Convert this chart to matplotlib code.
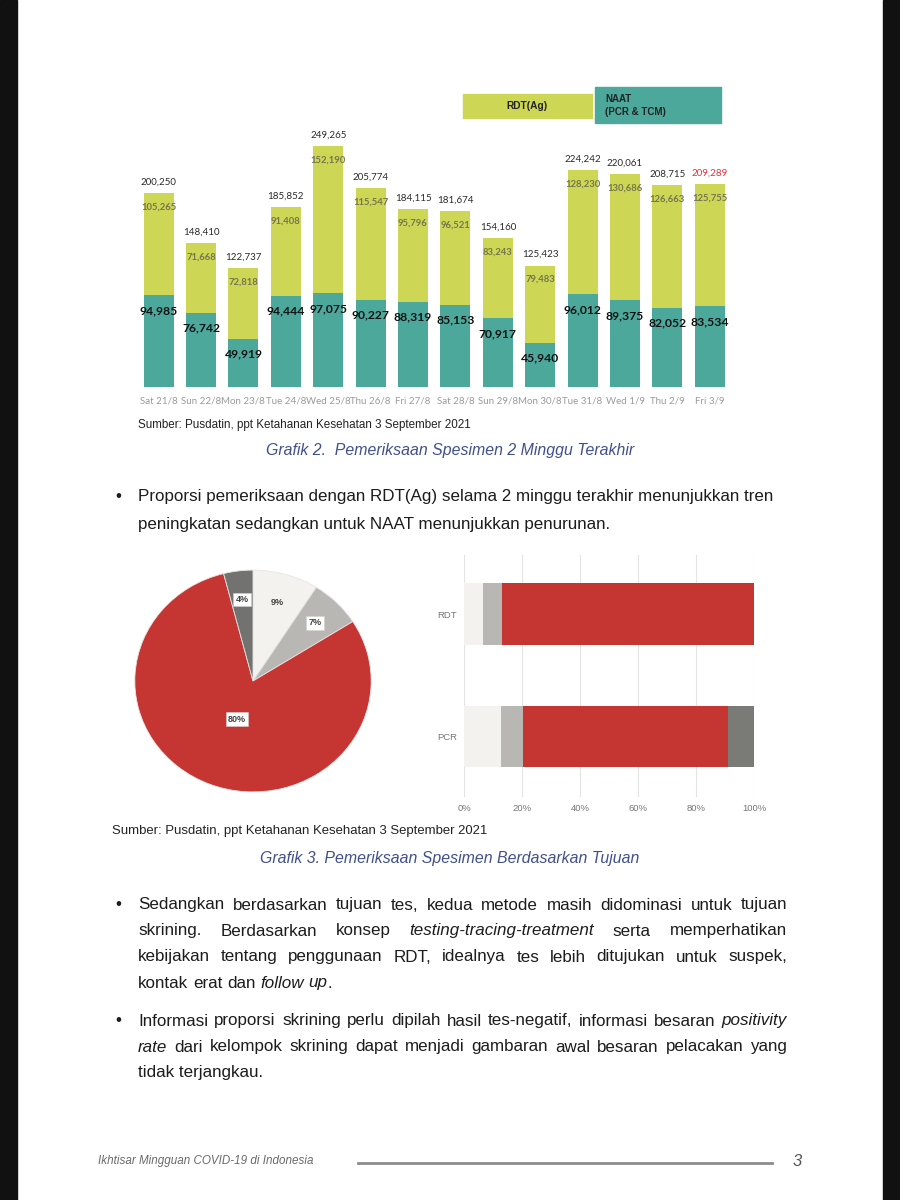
import matplotlib
matplotlib.use('Agg')
import matplotlib.pyplot as plt
from matplotlib.transforms import Affine2D
from matplotlib.patches import Rectangle
from matplotlib.lines import Line2D
import numpy as np

# ---------------- data ----------------
days = ['Sat 21/8', 'Sun 22/8', 'Mon 23/8', 'Tue 24/8', 'Wed 25/8', 'Thu 26/8', 'Fri 27/8',
        'Sat 28/8', 'Sun 29/8', 'Mon 30/8', 'Tue 31/8', 'Wed 1/9', 'Thu 2/9', 'Fri 3/9']
naat = [94985, 76742, 49919, 94444, 97075, 90227, 88319, 85153, 70917, 45940, 96012, 89375, 82052, 83534]
rdt = [105265, 71668, 72818, 91408, 152190, 115547, 95796, 96521, 83243, 79483, 128230, 130686, 126663, 125755]
totals = [200250, 148410, 122737, 185852, 249265, 205774, 184115, 181674, 154160, 125423, 224242, 220061, 208715, 209289]
legend_labels = ['RDT(Ag)', 'NAAT', '(PCR & TCM)']

pie_values = [9, 7, 80, 4]

bar_cats = ['PCR', 'RDT']
bar_seg1 = [12.7, 6.7]
bar_seg2 = [7.7, 6.5]
bar_seg3 = [70.5, 86.8]
bar_seg4 = [9.1, 0.0]
bar_ticks = [0, 20, 40, 60, 80, 100]

# ---------------- style ----------------
YEL = '#cdd655'
TEAL = '#4ba89b'
PIE_COLORS = ['#f3f2ef', '#b9b7b3', '#c53632', '#727270']
BAR_COLORS = ['#f3f2ef', '#b9b7b3', '#c53632', '#7a7a77']
CAP_BLUE = '#41508c'
BODY_COL = '#1c1c1c'
BODY = ['Liberation Sans', 'DejaVu Sans']
CHART = ['Lato', 'DejaVu Sans']

W, H = 900, 1200
fig = plt.figure(figsize=(9, 12), dpi=100)
fig.patch.set_facecolor('white')
PIX = Affine2D().scale(1 / W, -1 / H).translate(0, 1) + fig.transFigure
renderer = fig.canvas.get_renderer()


def add_ax(x, y, w, h):
    return fig.add_axes([x / W, 1 - (y + h) / H, w / W, h / H])


# black page margins
fig.add_artist(Rectangle((0, 0), 17, 1200, transform=PIX, color='#111111', zorder=0))
fig.add_artist(Rectangle((883, 0), 17, 1200, transform=PIX, color='#111111', zorder=0))

# ---------------- top stacked bar chart ----------------
scale = 0.000968  # px per unit
ax_h = 300000 * scale
ax = add_ax(137.4, 387 - ax_h, 593.6, ax_h)
x = np.arange(len(days))
ax.bar(x, naat, width=0.71, color=TEAL)
ax.bar(x, rdt, bottom=naat, width=0.71, color=YEL)
ax.set_xlim(-0.5, len(days) - 0.5)
ax.set_ylim(0, 300000)
for s in ax.spines.values():
    s.set_visible(False)
ax.set_yticks([])
ax.set_xticks(x, days)
ax.tick_params(axis='x', length=0, pad=7, labelsize=7, labelcolor='#9a9a9a')
for lab in ax.get_xticklabels():
    lab.set_family(CHART)
ax.patch.set_alpha(0)

for i in range(len(days)):
    col = '#e8303a' if i == len(days) - 1 else '#2a2a2a'
    ax.annotate(f'{totals[i]:,}', (i, totals[i]), xytext=(0, 11), textcoords='offset pixels',
                ha='center', va='center', fontsize=7, color=col, family=CHART)
    ax.annotate(f'{rdt[i]:,}', (i, totals[i]), xytext=(0, -14), textcoords='offset pixels',
                ha='center', va='center', fontsize=6.8, color='#76764c', family=CHART,
                fontweight='bold')
    ax.annotate(f'{naat[i]:,}', (i, naat[i]), xytext=(0, -15.5), textcoords='offset pixels',
                ha='center', va='center', fontsize=8.7, color='#111111', family=CHART,
                fontweight='bold')

# legend boxes
fig.add_artist(Rectangle((463, 94), 129, 24, transform=PIX, color=YEL))
fig.add_artist(Rectangle((595, 87), 126, 36, transform=PIX, color=TEAL))
fig.text(527, 106, legend_labels[0], transform=PIX, ha='center', va='center',
         fontsize=7.3, fontweight='bold', color='#222222', family=BODY)
fig.text(605, 99, legend_labels[1], transform=PIX, ha='left', va='center',
         fontsize=7, fontweight='bold', color='#222222', family=BODY)
fig.text(605, 112, legend_labels[2], transform=PIX, ha='left', va='center',
         fontsize=7, fontweight='bold', color='#222222', family=BODY)

# ---------------- pie chart ----------------
axp = add_ax(253 - 130, 681 - 122, 260, 244)
wedges, texts, autotexts = axp.pie(
    pie_values, colors=PIE_COLORS, startangle=90, counterclock=False,
    autopct=lambda p: f'{p:.0f}%', pctdistance=0.74,
    wedgeprops=dict(edgecolor='#e6e6e6', linewidth=0.6))
axp.set_aspect('auto')
axp.set_xlim(-1.1, 1.1)
axp.set_ylim(-1.1, 1.1)
for k, t in enumerate(autotexts):
    t.set_fontsize(6.5)
    t.set_fontweight('bold')
    t.set_color('#444444')
    t.set_family(BODY)
    if pie_values[k] > 50:
        px, py = t.get_position()
        t.set_position((px * 0.5, py * 0.5))
        t.set_bbox(dict(boxstyle='square,pad=0.25', fc='white', ec='#cfcfcf', lw=0.4))
    elif k > 0:
        t.set_bbox(dict(boxstyle='square,pad=0.25', fc='white', ec='#cfcfcf', lw=0.4))

# ---------------- horizontal stacked bar ----------------
axb = add_ax(464, 555, 290, 242)
yb = np.arange(len(bar_cats))
left = np.zeros(len(bar_cats))
for seg, c in zip([bar_seg1, bar_seg2, bar_seg3, bar_seg4], BAR_COLORS):
    axb.barh(yb, seg, left=left, height=0.506, color=c, zorder=2)
    left = left + np.array(seg)
axb.set_xlim(0, 100)
axb.set_ylim(-0.494, 1.482)
axb.set_xticks(bar_ticks, [f'{t}%' for t in bar_ticks])
axb.set_yticks(yb, bar_cats)
axb.grid(axis='x', color='#e4e4e4', lw=0.8, zorder=0)
axb.set_axisbelow(True)
for s in axb.spines.values():
    s.set_visible(False)
axb.tick_params(length=0, labelsize=6.8, labelcolor='#777777')
axb.tick_params(axis='x', pad=5.2)
axb.tick_params(axis='y', pad=5)
for lab in axb.get_xticklabels() + axb.get_yticklabels():
    lab.set_family(BODY)


# ---------------- text helpers ----------------
def width_of(t):
    return t.get_window_extent(renderer).width


def fit_text(x, y, s, target, base=10, **kw):
    t = fig.text(x, y, s, transform=PIX, fontsize=base, **kw)
    w = width_of(t)
    t.set_fontsize(base * target / w)
    return t


def parse(line):
    words, cur, buf, it = [], [], '', False
    for ch in line:
        if ch == '_':
            if buf:
                cur.append((buf, it))
                buf = ''
            it = not it
        elif ch == ' ':
            if buf:
                cur.append((buf, it))
                buf = ''
            if cur:
                words.append(cur)
                cur = []
        else:
            buf += ch
    if buf:
        cur.append((buf, it))
    if cur:
        words.append(cur)
    return words


def natural_width(line, size):
    t = fig.text(0, 0, line.replace('_', ''), transform=PIX, fontsize=size, family=BODY)
    w = width_of(t)
    t.remove()
    return w


def draw_line(line, x0, y, size, x1=None):
    if x1 is None and '_' not in line:
        fig.text(x0, y, line, transform=PIX, fontsize=size, family=BODY,
                 color=BODY_COL, va='center', ha='left')
        return
    words = parse(line)
    items = []
    for word in words:
        pieces = []
        for txt, it in word:
            t = fig.text(0, y, txt, transform=PIX, fontsize=size,
                         fontstyle='italic' if it else 'normal', family=BODY,
                         color=BODY_COL, va='center', ha='left')
            pieces.append((t, width_of(t)))
        items.append(pieces)
    word_w = [sum(w for _, w in p) for p in items]
    if x1 is not None and len(items) > 1:
        gap = (x1 - x0 - sum(word_w)) / (len(items) - 1)
    else:
        gap = natural_width('a a', size) - natural_width('aa', size)
    xx = x0
    for pieces in items:
        for t, w in pieces:
            t.set_position((xx, y))
            xx += w
        xx += gap


# captions
fit_text(138, 425, 'Sumber: Pusdatin, ppt Ketahanan Kesehatan 3 September 2021', 332,
         family=BODY, color='#222222', va='center', ha='left')
fit_text(450, 451, 'Grafik 2.  Pemeriksaan Spesimen 2 Minggu Terakhir', 370,
         family=BODY, color=CAP_BLUE, va='center', ha='center', fontstyle='italic')
fit_text(112, 831, 'Sumber: Pusdatin, ppt Ketahanan Kesehatan 3 September 2021', 375,
         family=BODY, color='#222222', va='center', ha='left')
fit_text(450, 858, 'Grafik 3. Pemeriksaan Spesimen Berdasarkan Tujuan', 380,
         family=BODY, color=CAP_BLUE, va='center', ha='center', fontstyle='italic')

# body text
first = 'Proporsi pemeriksaan dengan RDT(Ag) selama 2 minggu terakhir menunjukkan tren'
bsize = 10 * 636 / natural_width(first, 10)

X0, X1 = 138, 787
paragraphs = [
    ([(first, None), ('peningkatan sedangkan untuk NAAT menunjukkan penurunan.', None)], [497, 524]),
    ([('Sedangkan berdasarkan tujuan tes, kedua metode masih didominasi untuk tujuan', X1),
      ('skrining. Berdasarkan konsep _testing-tracing-treatment_ serta memperhatikan', X1),
      ('kebijakan tentang penggunaan RDT, idealnya tes lebih ditujukan untuk suspek,', X1),
      ('kontak erat dan _follow up_.', None)], [905, 931, 957, 983]),
    ([('Informasi proporsi skrining perlu dipilah hasil tes-negatif, informasi besaran _positivity_', X1),
      ('_rate_ dari kelompok skrining dapat menjadi gambaran awal besaran pelacakan yang', X1),
      ('tidak terjangkau.', None)], [1021, 1047, 1073]),
]
for lines, ys in paragraphs:
    fig.text(115, ys[0], '\u2022', transform=PIX, fontsize=bsize, family=BODY,
             color=BODY_COL, va='center', ha='left')
    for (ln, xe), yy in zip(lines, ys):
        draw_line(ln, X0, yy, bsize, xe)

# footer
fit_text(98, 1161, 'Ikhtisar Mingguan COVID-19 di Indonesia', 215,
         family=['Liberation Sans Narrow', 'Liberation Sans'], fontstyle='italic',
         color='#6a6a6a', va='center', ha='left')
fig.add_artist(Line2D([358, 772], [1163, 1163], transform=PIX, color='#8c8c8c', lw=2))
fig.text(797, 1161, '3', transform=PIX, fontsize=12, fontstyle='italic',
         family=['Liberation Sans Narrow', 'Liberation Sans'], color='#555555',
         va='center', ha='center')

fig.savefig('out.png', dpi=100, facecolor='white')
